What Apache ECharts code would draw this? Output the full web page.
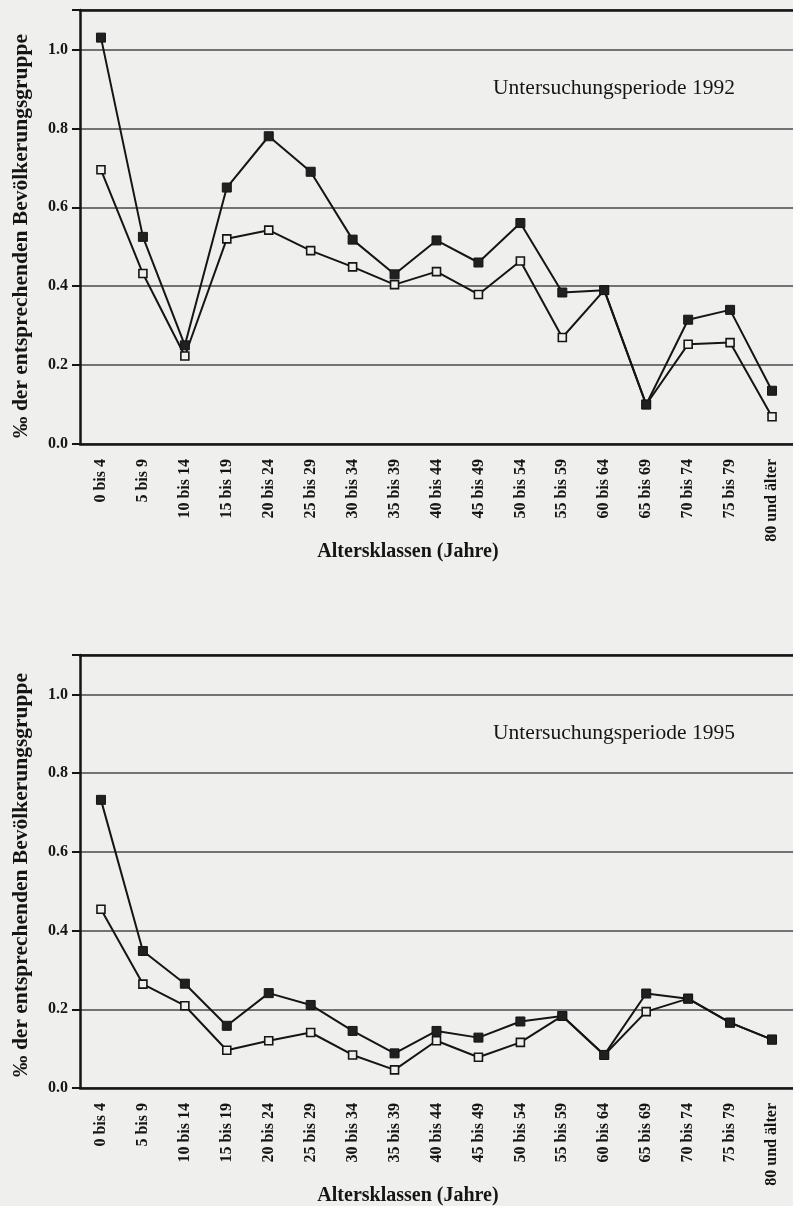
<!DOCTYPE html>
<html>
<head>
<meta charset="utf-8">
<script src="https://cdn.jsdelivr.net/npm/echarts@6/dist/echarts.min.js"></script>
<style>
html, body { margin: 0; padding: 0; background: #efefed; }
#chart { width: 793px; height: 1206px; }
</style>
</head>
<body>
<div id="chart"></div>
<script>
// Altersklassen (x-Achse)
var altersklassen = ['0 bis 4', '5 bis 9', '10 bis 14', '15 bis 19', '20 bis 24', '25 bis 29',
    '30 bis 34', '35 bis 39', '40 bis 44', '45 bis 49', '50 bis 54', '55 bis 59',
    '60 bis 64', '65 bis 69', '70 bis 74', '75 bis 79', '80 und älter'];

// Untersuchungsperiode 1992
var gefuellt1992 = [1.03, 0.525, 0.25, 0.65, 0.78, 0.69, 0.518, 0.43, 0.516, 0.46, 0.56, 0.384,
    0.39, 0.10, 0.315, 0.34, 0.135];
var offen1992 = [0.695, 0.432, 0.223, 0.52, 0.542, 0.49, 0.449, 0.404, 0.437, 0.379, 0.464, 0.27,
    0.39, 0.10, 0.253, 0.257, 0.069];

// Untersuchungsperiode 1995
var gefuellt1995 = [0.732, 0.348, 0.265, 0.158, 0.241, 0.211, 0.145, 0.088, 0.145, 0.128, 0.169, 0.183,
    0.084, 0.24, 0.227, 0.166, 0.123];
var offen1995 = [0.454, 0.264, 0.209, 0.096, 0.12, 0.141, 0.084, 0.046, 0.12, 0.078, 0.116, 0.183,
    0.084, 0.194, 0.227, 0.166, 0.123];

var yMin = 0, yMax = 1.1, yStep = 0.2, yMinorStep = 0.1;

var schrift = '"Liberation Serif", "DejaVu Serif", serif';
var schwarz = '#151515';
var papier = '#efefed';

var myChart = echarts.init(document.getElementById('chart'));

function xAchsen(gridIndex) {
    return [
        {
            gridIndex: gridIndex, type: 'category', position: 'bottom', data: altersklassen,
            boundaryGap: true,
            axisLine: { lineStyle: { color: schwarz, width: 2.5 } },
            axisTick: { alignWithLabel: true, interval: 0, length: 6, lineStyle: { color: schwarz, width: 2 } },
            axisLabel: { rotate: 90, interval: 0, margin: 15, color: schwarz,
                fontFamily: schrift, fontWeight: 'bold', fontSize: 16 }
        },
        {
            gridIndex: gridIndex, type: 'category', position: 'bottom', data: altersklassen,
            boundaryGap: true,
            axisLine: { show: false },
            axisTick: { interval: 0, length: 4, lineStyle: { color: schwarz, width: 1.5 } },
            axisLabel: { show: false }
        },
        {
            gridIndex: gridIndex, type: 'category', position: 'top', data: altersklassen,
            axisLine: { lineStyle: { color: schwarz, width: 2.5 } },
            axisTick: { show: false },
            axisLabel: { show: false }
        }
    ];
}

function yAchsen(gridIndex) {
    return [
        {
            gridIndex: gridIndex, type: 'value', min: yMin, max: yMax, interval: yStep,
            axisLine: { show: true, lineStyle: { color: schwarz, width: 2.5 } },
            axisTick: { show: true, length: 8, lineStyle: { color: schwarz, width: 2 } },
            axisLabel: {
                margin: 12, color: schwarz, fontFamily: schrift, fontWeight: 'bold', fontSize: 16,
                formatter: function (v) { return v > 1.05 ? '' : v.toFixed(1); }
            },
            splitLine: { show: true, lineStyle: { color: '#4a4a4a', width: 1.5 } }
        },
        {
            gridIndex: gridIndex, type: 'value', min: yMin, max: yMax, interval: yMinorStep,
            axisLine: { show: false },
            axisTick: { show: true, length: 4, lineStyle: { color: schwarz, width: 1.5 } },
            axisLabel: { show: false },
            splitLine: { show: false }
        }
    ];
}

function linie(daten, xIndex, yIndex, gefuellt) {
    return {
        type: 'line', data: daten, xAxisIndex: xIndex, yAxisIndex: yIndex,
        symbol: 'rect', symbolSize: gefuellt ? 9 : 8,
        z: gefuellt ? 4 : 3,
        lineStyle: { color: schwarz, width: 2 },
        itemStyle: { color: gefuellt ? '#202020' : papier, borderColor: schwarz, borderWidth: gefuellt ? 1 : 1.6 },
        animation: false
    };
}

function text(inhalt, x, y, size, weight, rot) {
    return {
        type: 'text', x: x, y: y, rotation: rot || 0,
        style: { text: inhalt, fill: schwarz, font: weight + ' ' + size + 'px ' + schrift,
            align: 'center', verticalAlign: 'middle' }
    };
}

option = {
    backgroundColor: papier,
    animation: false,
    grid: [
        { left: 80, top: 10, width: 722, height: 434 },
        { left: 80, top: 655, width: 722, height: 433 }
    ],
    xAxis: xAchsen(0).concat(xAchsen(1)),
    yAxis: yAchsen(0).concat(yAchsen(1)),
    series: [
        linie(offen1992, 0, 0, false),
        linie(gefuellt1992, 0, 0, true),
        linie(offen1995, 3, 2, false),
        linie(gefuellt1995, 3, 2, true)
    ],
    graphic: [
        text('Untersuchungsperiode 1992', 614, 88, 21.5, 'normal'),
        text('Untersuchungsperiode 1995', 614, 733, 21.5, 'normal'),
        text('Altersklassen (Jahre)', 408, 552, 20, 'bold'),
        text('Altersklassen (Jahre)', 408, 1196, 20, 'bold'),
        text('‰ der entsprechenden Bevölkerungsgruppe', 21, 236, 21.5, 'bold', Math.PI / 2),
        text('‰ der entsprechenden Bevölkerungsgruppe', 21, 875, 21.5, 'bold', Math.PI / 2)
    ]
};

myChart.setOption(option);
</script>
</body>
</html>
